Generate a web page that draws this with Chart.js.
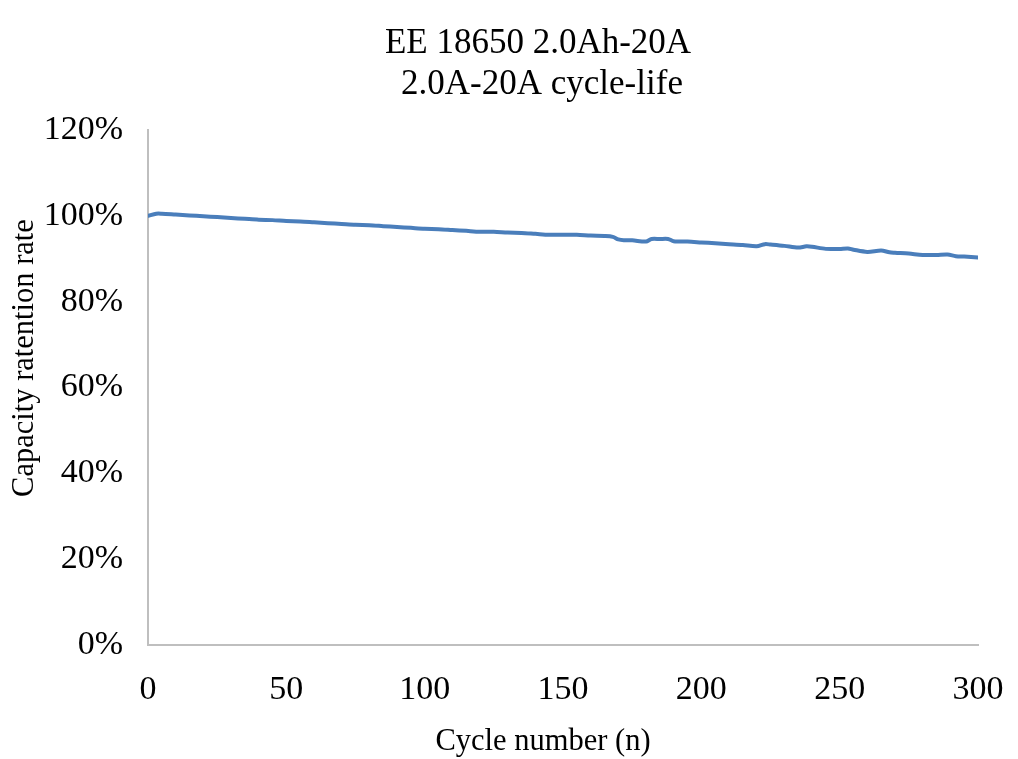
<!DOCTYPE html>
<html>
<head>
<meta charset="utf-8">
<script src="https://cdn.jsdelivr.net/npm/chart.js@4.4.1/dist/chart.umd.min.js"></script>
<style>
  html, body { margin: 0; padding: 0; background: #ffffff; }
  #wrap { width: 1018px; height: 759px; position: relative; }
</style>
</head>
<body>
<div id="wrap"><canvas id="c" width="1018" height="759"></canvas></div>
<script>
const titleLines = ["EE 18650 2.0Ah-20A", "2.0A-20A cycle-life"];
const xTitle = "Cycle number (n)";
const yTitle = "Capacity ratention rate";

const cycles = [0, 3, 5, 10, 15, 20, 25, 30, 35, 40, 45, 50, 55, 60, 65, 70, 75, 80, 85, 90,
  95, 100, 105, 110, 115, 120, 125, 130, 135, 140, 145, 150, 155, 160, 165, 168, 170, 172, 175,
  180, 182, 185, 188, 190, 195, 200, 205, 210, 215, 220, 223, 225, 230, 235, 238, 240, 245, 250,
  253, 255, 260, 265, 268, 270, 275, 280, 285, 289, 292, 295, 300];
const retention = [100.0, 100.5, 100.5, 100.3, 100.1, 99.9, 99.7, 99.5, 99.3, 99.1, 99.0, 98.8,
  98.7, 98.5, 98.3, 98.1, 97.9, 97.8, 97.6, 97.4, 97.2, 97.0, 96.9, 96.7, 96.5, 96.3, 96.3, 96.1,
  96.0, 95.8, 95.6, 95.6, 95.6, 95.4, 95.3, 95.1, 94.5, 94.3, 94.3, 94.0, 94.6, 94.6, 94.6, 94.1,
  94.0, 93.8, 93.6, 93.4, 93.2, 92.9, 93.4, 93.3, 93.0, 92.6, 92.9, 92.8, 92.3, 92.3, 92.4, 92.1,
  91.6, 91.9, 91.5, 91.4, 91.2, 90.9, 90.9, 91.0, 90.6, 90.5, 90.3];

const serif = "'Times New Roman', 'Liberation Serif', serif";

const textPlugin = {
  id: 'textPlugin',
  afterDraw(chart) {
    const ctx = chart.ctx;
    ctx.save();
    ctx.fillStyle = '#000000';
    ctx.textAlign = 'center';
    ctx.textBaseline = 'alphabetic';
    ctx.font = '35px ' + serif;
    ctx.fillText(titleLines[0], 538, 53);
    ctx.fillText(titleLines[1], 542, 94);
    ctx.font = '30.5px ' + serif;
    ctx.fillText(xTitle, 543, 750);
    ctx.translate(33, 358);
    ctx.rotate(-Math.PI / 2);
    ctx.fillText(yTitle, 0, 0);
    ctx.restore();
  }
};

new Chart(document.getElementById('c'), {
  type: 'line',
  data: {
    datasets: [{
      data: cycles.map((c, i) => ({ x: c, y: retention[i] })),
      borderColor: '#4A7EBB',
      borderWidth: 4,
      pointRadius: 0,
      tension: 0.3,
      borderJoinStyle: 'round',
      borderCapStyle: 'round',
      fill: false
    }]
  },
  options: {
    responsive: false,
    animation: false,
    layout: { padding: { top: 130, right: 40, left: 0, bottom: 0 } },
    plugins: { legend: { display: false }, title: { display: false }, tooltip: { enabled: false } },
    scales: {
      x: {
        type: 'linear',
        min: 0, max: 300,
        ticks: { stepSize: 50, color: '#000000', font: { family: serif, size: 34 }, padding: 25, maxRotation: 0 },
        grid: { display: false, drawTicks: false },
        border: { display: true, color: '#BFBFBF', width: 2 },
        afterFit(scale) { scale.height = 114; scale.paddingRight = 0; scale.paddingLeft = 0; }
      },
      y: {
        min: 0, max: 120,
        ticks: { stepSize: 20, color: '#000000', font: { family: serif, size: 34 }, padding: 25,
          callback: v => v + '%' },
        grid: { display: false, drawTicks: false },
        border: { display: true, color: '#BFBFBF', width: 2 },
        afterFit(scale) { scale.width = 148; scale.paddingTop = 0; scale.paddingBottom = 0; }
      }
    }
  },
  plugins: [textPlugin]
});
</script>
</body>
</html>
